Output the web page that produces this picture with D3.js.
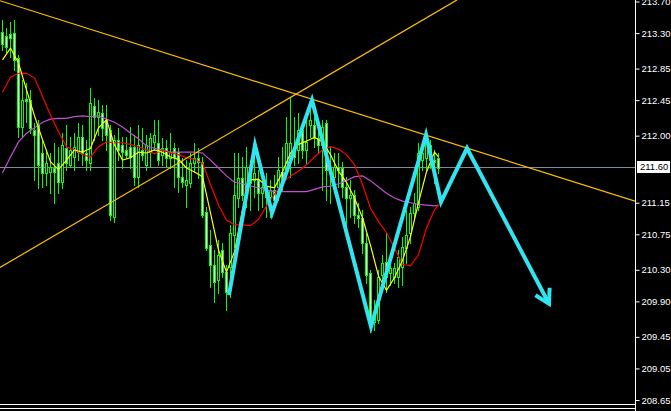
<!DOCTYPE html>
<html><head><meta charset="utf-8">
<script src="https://cdn.jsdelivr.net/npm/d3@7"></script>
<style>html,body{margin:0;padding:0;background:#000;overflow:hidden}</style>
</head><body><svg id="c" width="671" height="411"></svg>
<script>
// ---- data ----
const opens=[213.31,213.26,213.29,213.30,212.98,212.11,212.47,212.45,212.07,212.14,
211.78,211.53,211.54,211.59,211.65,211.41,211.84,211.63,211.73,211.79,
211.98,211.78,211.65,212.38,212.24,212.29,212.20,212.07,210.97,211.95,
211.88,211.82,211.86,211.86,211.48,211.82,211.63,211.79,211.92,211.91,
211.76,211.84,211.72,211.84,211.79,211.48,211.38,211.40,211.65,211.72,
211.67,211.03,210.61,210.36,210.17,210.55,210.27,210.34,210.74,211.21,
211.46,211.25,211.57,211.44,211.44,211.27,211.35,211.22,211.31,211.35,
211.54,211.57,211.73,211.86,211.82,212.07,211.82,212.14,212.14,211.97,
211.88,212.16,211.57,211.48,211.60,211.59,211.35,211.21,211.25,210.99,
210.96,210.64,210.26,209.64,209.66,210.23,210.40,210.26,210.21,210.21,
210.34,210.58,210.77,211.02,211.10,211.69,211.72,211.88,211.69,211.72];
const highs=[213.47,213.37,213.44,213.47,213.02,212.71,212.67,212.58,212.16,212.20,
211.95,211.82,211.78,211.91,211.86,212.03,212.14,211.98,212.03,212.16,
212.14,211.95,212.60,212.48,212.45,212.39,212.39,212.14,212.01,212.10,
211.98,211.98,212.11,212.01,212.14,212.10,212.01,212.03,212.20,212.20,
211.97,211.95,212.03,211.91,211.84,211.72,211.69,211.78,211.91,211.84,
211.73,211.10,210.80,210.55,210.68,210.64,210.36,210.87,211.78,211.78,
211.73,211.86,211.69,211.86,211.57,211.57,211.53,211.44,211.50,211.73,
211.86,212.24,212.49,212.24,212.29,212.14,212.24,212.33,212.24,212.11,
212.20,212.20,211.86,211.78,211.78,211.67,211.48,211.44,211.31,211.15,
211.06,210.77,210.30,209.92,210.30,210.49,210.77,210.46,210.39,210.55,
210.72,211.06,211.10,211.27,211.91,211.86,212.03,211.95,211.82,211.78];
const lows=[213.09,213.06,213.00,212.83,211.98,211.98,212.17,212.03,211.44,211.34,
211.35,211.38,211.27,211.15,211.27,211.34,211.57,211.60,211.57,211.69,
211.63,211.57,211.57,211.95,212.01,211.95,211.82,210.93,210.91,211.69,
211.59,211.72,211.59,211.38,211.35,211.69,211.57,211.60,211.82,211.63,
211.63,211.60,211.59,211.35,211.29,211.35,211.10,211.35,211.54,211.46,
210.97,210.55,210.08,209.89,210.01,210.21,209.79,209.96,210.59,211.10,
211.19,211.10,211.06,211.22,211.06,211.10,210.97,210.97,211.06,211.19,
211.31,211.48,211.48,211.63,211.65,211.72,211.65,211.98,211.86,211.78,
211.31,211.19,211.15,211.27,211.35,211.22,210.86,210.97,210.89,210.84,
210.51,210.13,209.51,209.54,209.63,210.13,210.02,210.11,210.13,210.08,
210.11,210.39,210.64,210.93,211.06,211.57,211.57,211.59,211.40,211.53];
const closes=[213.16,213.12,213.24,212.96,212.11,212.45,212.44,212.10,212.01,211.63,
211.53,211.65,211.60,211.54,211.41,211.88,211.65,211.82,211.86,211.98,
211.78,211.69,212.41,212.24,212.30,212.10,212.01,210.99,211.95,211.82,
211.79,211.76,211.73,211.48,211.88,211.76,211.88,211.97,212.01,211.69,
211.84,211.72,211.79,211.73,211.48,211.41,211.44,211.65,211.72,211.67,
210.99,210.58,210.36,210.15,210.49,210.27,210.02,210.77,211.25,211.46,
211.25,211.60,211.40,211.53,211.27,211.35,211.22,211.31,211.19,211.57,
211.44,211.91,211.91,211.73,212.07,211.82,211.92,212.20,211.97,211.88,
212.11,211.57,211.59,211.60,211.57,211.35,211.21,211.25,210.99,210.96,
210.64,210.23,209.64,209.77,210.21,210.39,210.21,210.32,210.32,210.46,
210.59,210.74,211.02,211.15,211.78,211.78,211.91,211.69,211.67,211.59];

const maIdx=[0,2,4,6,8,10,12,14,16,18,20,22,24,26,28,30,32,34,36,38,40,42,44,46,48,50,
52,54,56,58,60,62,64,66,68,70,72,74,76,78,80,82,84,86,88,90,92,94,96,98,100,102,104,106,108,109];
const maFast=[212.96,213.11,212.92,212.58,212.25,211.95,211.67,211.57,211.69,211.82,
211.79,211.84,212.10,212.20,211.88,211.69,211.72,211.79,211.78,211.82,
211.79,211.73,211.70,211.59,211.54,211.48,211.02,210.55,210.27,210.53,
211.06,211.44,211.45,211.36,211.34,211.54,211.78,211.89,211.93,211.98,
211.92,211.76,211.55,211.41,211.21,210.96,210.61,210.22,210.04,210.20,
210.42,210.72,211.15,211.54,211.79,211.73];
const maMid=[212.55,212.74,212.79,212.79,212.73,212.50,212.26,212.05,211.86,211.82,
211.76,211.73,211.86,211.92,211.91,211.91,211.89,211.86,211.82,211.77,
211.82,211.78,211.76,211.72,211.70,211.65,211.38,211.12,210.93,210.87,
210.87,210.86,210.94,211.11,211.26,211.40,211.49,211.55,211.63,211.73,
211.82,211.86,211.83,211.76,211.63,211.38,211.08,210.91,210.77,210.58,
210.37,210.35,210.49,210.83,211.06,211.12];
const maSlow=[211.53,211.73,211.92,212.03,212.10,212.17,212.21,212.22,212.22,212.24,
212.25,212.24,212.25,212.21,212.17,212.11,212.03,211.96,211.87,211.84,
211.82,211.79,211.79,211.79,211.79,211.78,211.69,211.59,211.49,211.41,
211.39,211.36,211.34,211.31,211.29,211.29,211.29,211.29,211.29,211.32,
211.35,211.36,211.39,211.43,211.48,211.49,211.43,211.35,211.27,211.21,
211.17,211.15,211.13,211.12,211.11,211.12];

const tickValues=[213.70,213.30,212.85,212.45,212.00,211.15,210.75,210.30,209.90,209.45,209.05,208.65];
const hLevel=211.60;
const zigIdx=[56.75,63.25,67.5,77.5,92.25,106,109.75,116.25,136.75];
const zigPrice=[209.98,211.88,211.02,212.45,209.58,212.01,211.16,211.84,209.87];
const trend1Idx=[-0.5,158.25], trend1Price=[213.71,211.17];
const trend2Idx=[-0.5,113.75], trend2Price=[210.33,213.72];

// ---- layout ----
const W=671,H=411,plotR=635,plotB=404;
const svg=d3.select('#c');
svg.append('rect').attr('width',W).attr('height',H).attr('fill','#000');
const x=d3.scaleLinear().domain([-0.5,158.25]).range([0,plotR]);
const y=d3.scaleLinear().domain([208.65,213.70]).range([400,1.5]);

svg.append('defs').append('clipPath').attr('id','clip')
  .append('rect').attr('x',0).attr('y',0).attr('width',plotR).attr('height',plotB);
const g=svg.append('g').attr('clip-path','url(#clip)');

// horizontal level
g.append('line').attr('x1',0).attr('x2',plotR)
  .attr('y1',Math.round(y(hLevel))+0.5).attr('y2',Math.round(y(hLevel))+0.5)
  .attr('stroke','#7f8c9c').attr('stroke-width',1);

// candles
const cg=g.append('g').attr('shape-rendering','crispEdges');
opens.forEach((o,i)=>{
  const c=closes[i],px=Math.round(x(i));
  const yh=Math.round(y(highs[i])),yl=Math.round(y(lows[i]));
  cg.append('rect').attr('x',px).attr('y',yh).attr('width',1).attr('height',Math.max(1,yl-yh+1)).attr('fill','#00ff00');
  const yt=Math.round(y(Math.max(o,c))),yb=Math.round(y(Math.min(o,c)));
  const hgt=Math.max(1,yb-yt+1);
  cg.append('rect').attr('x',px-1).attr('y',yt).attr('width',3).attr('height',hgt).attr('fill','#00ff00');
  if(hgt>2) cg.append('rect').attr('x',px).attr('y',yt+1).attr('width',1).attr('height',hgt-2)
     .attr('fill',c<o?'#ffffff':'#000000');
});

// moving averages
const line=d3.line().x((d,k)=>x(maIdx[k])+0.5).y(d=>y(d));
[[maSlow,'#c050d0'],[maMid,'#ff0000'],[maFast,'#ffff00']].forEach(([arr,col])=>{
  g.append('path').attr('d',line(arr)).attr('fill','none').attr('stroke',col).attr('stroke-width',1.2);
});

// trend lines
[[trend1Idx,trend1Price],[trend2Idx,trend2Price]].forEach(([ix,pr])=>{
  g.append('line').attr('x1',x(ix[0])).attr('y1',y(pr[0])).attr('x2',x(ix[1])).attr('y2',y(pr[1]))
   .attr('stroke','#ffc000').attr('stroke-width',1.2);
});

// zigzag with arrow
const zl=d3.line().x((d,k)=>x(zigIdx[k])).y(d=>y(d));
g.append('path').attr('d',zl(zigPrice)).attr('fill','none').attr('stroke','#30e4f0')
 .attr('stroke-width',4).attr('stroke-linejoin','miter').attr('stroke-miterlimit',10);
{
  const n=zigIdx.length;
  const tx=x(zigIdx[n-1]),ty=y(zigPrice[n-1]);
  const sx=x(zigIdx[n-2]),sy=y(zigPrice[n-2]);
  const a=Math.atan2(ty-sy,tx-sx),L=16,sp=Math.PI/6;
  const p1=[tx-L*Math.cos(a-sp),ty-L*Math.sin(a-sp)];
  const p2=[tx-L*Math.cos(a+sp),ty-L*Math.sin(a+sp)];
  g.append('path').attr('d',`M${p1[0]},${p1[1]}L${tx},${ty}L${p2[0]},${p2[1]}`)
   .attr('fill','none').attr('stroke','#30e4f0').attr('stroke-width',4).attr('stroke-linejoin','miter');
}

// frame
svg.append('line').attr('x1',plotR+0.5).attr('x2',plotR+0.5).attr('y1',0).attr('y2',H).attr('stroke','#fff');
svg.append('line').attr('x1',0).attr('x2',plotR).attr('y1',plotB+0.5).attr('y2',plotB+0.5).attr('stroke','#fff');
svg.append('line').attr('x1',0).attr('x2',plotR).attr('y1',plotB+4.5).attr('y2',plotB+4.5).attr('stroke','#fff');

// axis
const ax=svg.append('g').attr('transform',`translate(${plotR+0.5},0)`)
  .call(d3.axisRight(y).tickValues(tickValues).tickFormat(d3.format('.2f')).tickSize(4).tickPadding(2));
ax.select('.domain').remove();
ax.selectAll('line').attr('stroke','#fff');
ax.selectAll('text').attr('fill','#fff').style('font-family','"Liberation Sans",Arial,sans-serif').style('font-size','9.5px');

// level label
const ly=Math.round(y(hLevel));
svg.append('rect').attr('x',637).attr('y',ly-6).attr('width',33).attr('height',12).attr('fill','#fff');
svg.append('text').attr('x',640).attr('y',ly).attr('dy','0.35em').attr('fill','#000')
  .style('font-family','"Liberation Sans",Arial,sans-serif').style('font-size','9.5px').text(hLevel.toFixed(2));
</script></body></html>
